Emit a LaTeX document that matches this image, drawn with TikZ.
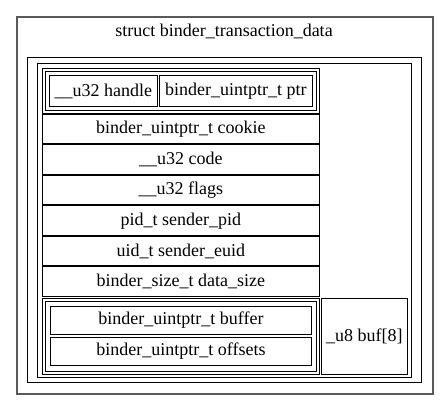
\documentclass[tikz,border=0pt]{standalone}
\usepackage{fontspec}
\setmainfont{Liberation Serif}
\tikzset{
  px/.style={x=1pt,y=-1pt},
  frame/.style={draw=black, line width=0.9pt, inner sep=0pt, anchor=north west},
  cell/.style={frame, font=\fontsize{18}{21}\selectfont},
  outerframe/.style={draw=black!65, line width=1.6pt, inner sep=0pt, anchor=north west},
  lbl/.style={inner sep=0pt, font=\fontsize{18}{21}\selectfont}
}
\begin{document}
\begin{tikzpicture}[px]
\useasboundingbox (0,0) rectangle (448,409);
\node[outerframe, minimum width=416pt, minimum height=377pt] (outer) at (16,16) {};
\node[lbl] (title) at (224,31) {struct binder\_transaction\_data};
\node[frame, minimum width=394pt, minimum height=325pt] (body) at (27,57) {};
\node[frame, minimum width=374pt, minimum height=314pt] (table) at (37,63) {};
% first union
\node[frame, minimum width=277pt, minimum height=45pt] (uoneo) at (42,68) {};
\node[frame, minimum width=271pt, minimum height=39pt] (uonei) at (45,71) {};
\node[cell, minimum width=108pt, minimum height=31pt] (handle) at (49,75) {\_\_u32 handle};
\node[cell, minimum width=153pt, minimum height=31pt] (ptr) at (159,75) {binder\_uintptr\_t ptr};
% rows
\node[cell, minimum width=277pt, minimum height=29.5pt] (cookie) at (42,114) {binder\_uintptr\_t cookie};
\node[cell, minimum width=277pt, minimum height=29.5pt] (code) at (42,144.5) {\_\_u32 code};
\node[cell, minimum width=277pt, minimum height=29.5pt] (flags) at (42,175) {\_\_u32 flags};
\node[cell, minimum width=277pt, minimum height=29.5pt] (pid) at (42,205.5) {pid\_t sender\_pid};
\node[cell, minimum width=277pt, minimum height=29.5pt] (euid) at (42,236) {uid\_t sender\_euid};
\node[cell, minimum width=277pt, minimum height=29.5pt] (dsize) at (42,266.5) {binder\_size\_t data\_size};
% second union
\node[frame, minimum width=277pt, minimum height=76pt] (utwoo) at (42,298) {};
\node[frame, minimum width=271pt, minimum height=70pt] (utwoi) at (45,301) {};
\node[cell, minimum width=261pt, minimum height=28pt] (buffer) at (50,306) {binder\_uintptr\_t buffer};
\node[cell, minimum width=261pt, minimum height=28pt] (offsets) at (50,337) {binder\_uintptr\_t offsets};
\node[cell, minimum width=86pt, minimum height=76pt] (buf) at (321,298) {\_u8 buf[8]};
\end{tikzpicture}
\end{document}
